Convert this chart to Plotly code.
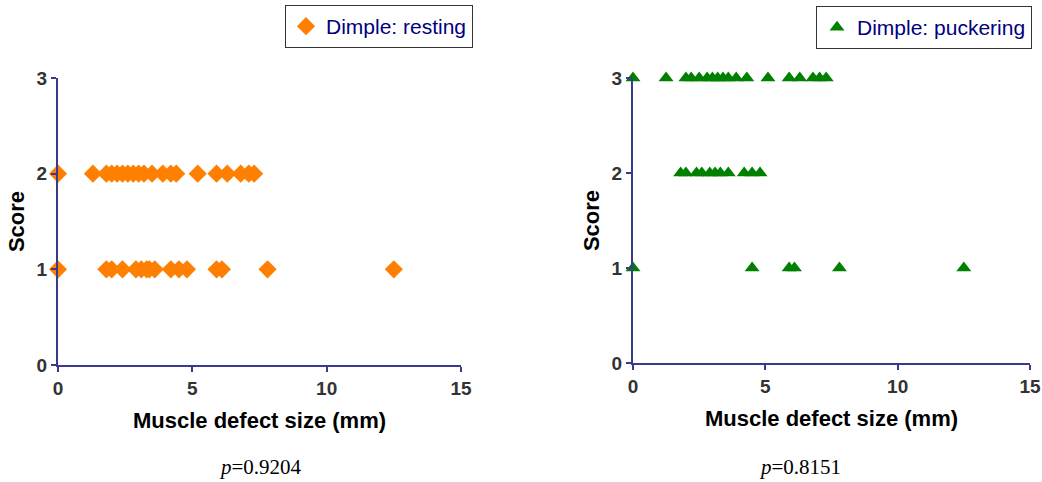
import plotly.graph_objects as go

# Left panel: Dimple resting
rest_x_2 = [0, 1.3, 1.8, 2.0, 2.2, 2.4, 2.6, 2.8, 3.0, 3.2, 3.5, 3.9, 4.2, 4.4, 5.2, 5.9, 6.3, 6.8, 7.1, 7.3]
rest_x_1 = [0, 1.8, 2.0, 2.4, 2.9, 3.1, 3.3, 3.4, 3.6, 4.2, 4.5, 4.8, 5.9, 6.1, 7.8, 12.5]
rest_x = rest_x_2 + rest_x_1
rest_y = [2] * len(rest_x_2) + [1] * len(rest_x_1)

# Right panel: Dimple puckering
puck_x_3 = [0, 1.25, 2.0, 2.2, 2.5, 2.8, 3.0, 3.2, 3.4, 3.6, 3.9, 4.3, 5.1, 5.9, 6.3, 6.8, 7.05, 7.3]
puck_x_2 = [1.8, 2.0, 2.4, 2.6, 2.9, 3.1, 3.3, 3.6, 4.2, 4.5, 4.8]
puck_x_1 = [0, 4.5, 5.9, 6.1, 7.8, 12.5]
puck_x = puck_x_3 + puck_x_2 + puck_x_1
puck_y = [3] * len(puck_x_3) + [2] * len(puck_x_2) + [1] * len(puck_x_1)

x_ticks = [0, 5, 10, 15]
y_ticks = [0, 1, 2, 3]
p_values = ["0.9204", "0.8151"]

AXC = "#3a3a8c"
TICKC = "#333333"

fig = go.Figure()
fig.add_trace(go.Scatter(
    x=rest_x, y=rest_y, mode="markers", name="Dimple: resting",
    marker=dict(symbol="diamond", size=14, color="#FF8000"),
    cliponaxis=False, xaxis="x", yaxis="y", legend="legend"))
fig.add_trace(go.Scatter(
    x=puck_x, y=puck_y, mode="markers", name="Dimple: puckering",
    marker=dict(symbol="triangle-up", size=13, color="#008000"),
    cliponaxis=False, xaxis="x2", yaxis="y2", legend="legend2"))

W, H = 1042, 482
ml, mr, mt, mb = 58, 12, 78, 117
pw = W - ml - mr
ph = H - mt - mb

def ax_common():
    return dict(showline=True, linecolor=AXC, linewidth=2, ticks="outside",
                tickcolor=AXC, tickwidth=2, ticklen=5, showgrid=False, zeroline=False,
                tickfont=dict(family="Liberation Sans, Arial", size=19, color=TICKC, weight="bold"),
                fixedrange=True)

title_font = dict(family="Liberation Sans, Arial", size=22, color="black", weight="bold")

fig.update_layout(
    width=W, height=H,
    margin=dict(l=ml, r=mr, t=mt, b=mb, autoexpand=False),
    plot_bgcolor="white", paper_bgcolor="white",
    xaxis=dict(**ax_common(), domain=[0, (461 - ml) / pw], range=[0, 15], tickvals=x_ticks,
               anchor="y", title=dict(text="Muscle defect size (mm)", font=title_font, standoff=15)),
    yaxis=dict(**ax_common(), domain=[0, 1], range=[0, 3], tickvals=y_ticks,
               anchor="x", title=dict(text="Score", font=title_font, standoff=6)),
    xaxis2=dict(**ax_common(), domain=[(633 - ml) / pw, 1], range=[0, 15], tickvals=x_ticks,
                anchor="y2", title=dict(text="Muscle defect size (mm)", font=title_font, standoff=15)),
    yaxis2=dict(**ax_common(), domain=[2 / ph, 1], range=[0, 3], tickvals=y_ticks,
                anchor="x2", title=dict(text="Score", font=title_font, standoff=6)),
    legend=dict(x=(473 - ml) / pw, xanchor="right",
                y=1 + (mt - 5) / ph, yanchor="top", itemwidth=30,
                bordercolor="#333333", borderwidth=1, bgcolor="white",
                font=dict(family="Liberation Sans, Arial", size=21, color="#000080")),
    legend2=dict(x=(1032 - ml) / pw, xanchor="right",
                 y=1 + (mt - 6) / ph, yanchor="top", itemwidth=30,
                 bordercolor="#333333", borderwidth=1, bgcolor="white",
                 font=dict(family="Liberation Sans, Arial", size=21, color="#000080")),
    showlegend=True,
)

for cx, pv in zip([260, 800], p_values):
    fig.add_annotation(text="<i>p</i>=" + pv, x=(cx - ml) / pw, y=-(467 - (H - mb)) / ph,
                       xref="paper", yref="paper", showarrow=False, xanchor="center", yanchor="middle",
                       font=dict(family="Liberation Serif, Times New Roman", size=21, color="black"))

fig.write_html("out.html")
